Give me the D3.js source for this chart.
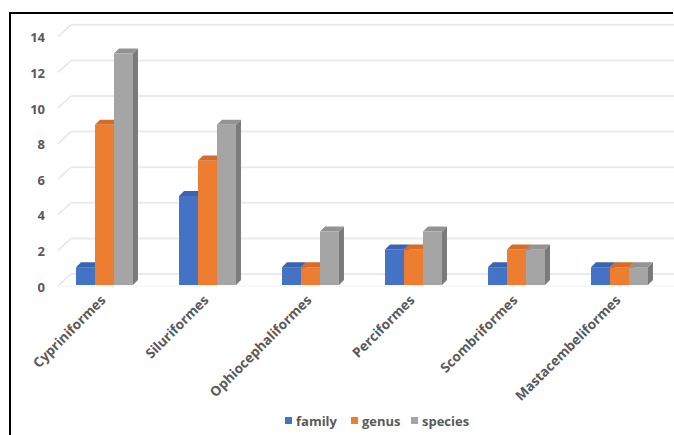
<!DOCTYPE html>
<html>
<head>
<meta charset="utf-8">
<script src="https://cdn.jsdelivr.net/npm/d3@7"></script>
<style>
  html, body { margin: 0; padding: 0; background: #fff; }
  svg { display: block; font-family: "Open Sans", "Liberation Sans", sans-serif; }
</style>
</head>
<body>
<svg id="chart" width="674" height="435"></svg>
<script>
// Fish orders and the number of families, genera and species in each
const categories = ["Cypriniformes", "Siluriformes", "Ophiocephaliformes", "Perciformes", "Scombriformes", "Mastacembeliformes"];
const seriesNames = ["family", "genus", "species"];
const familyValues  = [1, 5, 1, 2, 1, 1];
const genusValues   = [9, 7, 1, 2, 2, 1];
const speciesValues = [13, 9, 3, 3, 2, 1];
const yTicks = [0, 2, 4, 6, 8, 10, 12, 14];

const seriesValues = [familyValues, genusValues, speciesValues];
const frontColors = ["#4472c4", "#ed7d31", "#a5a5a5"];
const topColors   = ["#3a64b0", "#d46d28", "#939393"];
const sideColors  = ["#2f5597", "#b45b1c", "#7a7a7a"];

const svg = d3.select("#chart");
const W = 674, H = 435;

// frame: top and left rules
svg.append("line").attr("x1", 10).attr("y1", 13).attr("x2", 673).attr("y2", 13)
  .attr("stroke", "#000").attr("stroke-width", 2);
svg.append("line").attr("x1", 10).attr("y1", 12).attr("x2", 10).attr("y2", 435)
  .attr("stroke", "#000").attr("stroke-width", 2);

const y = d3.scaleLinear().domain([0, 14]).range([285, 285 - 14 * 17.8]);
const x0 = d3.scaleBand().domain(categories).range([53, 671]).paddingInner(0.447).paddingOuter(0.2235);
const x1 = d3.scaleBand().domain(seriesNames).range([0, x0.bandwidth()]).padding(0);

// 3D offsets
const wallDx = 13, wallDy = -12;   // back wall relative to the front plane
const d = 5;                        // bar depth

// gridlines: slanted on the side wall, horizontal on the back wall
const grid = svg.append("g");
yTicks.forEach(t => {
  const yy = y(t) + 1;
  grid.append("line").attr("x1", 58).attr("y1", yy).attr("x2", 58 + wallDx).attr("y2", yy + wallDy)
    .attr("stroke", "#e6e6e6").attr("stroke-width", 1.5);
  grid.append("line").attr("x1", 58 + wallDx).attr("y1", yy + wallDy).attr("x2", W).attr("y2", yy + wallDy)
    .attr("stroke", "#ebebeb").attr("stroke-width", 2);
});
// floor edge
grid.append("line").attr("x1", 58).attr("y1", y(0) + 1).attr("x2", W).attr("y2", y(0) + 1)
  .attr("stroke", "#f2f2f2").attr("stroke-width", 1);

// y-axis labels
const yAxis = d3.axisLeft(y).tickValues(yTicks).tickSize(0).tickPadding(0);
const ya = svg.append("g").attr("transform", "translate(45,2)").call(yAxis);
ya.select(".domain").remove();
ya.selectAll("text").attr("fill", "#595959").attr("font-size", 13).attr("font-weight", 700)
  .attr("font-family", "'Open Sans', sans-serif");

// bars
const bars = svg.append("g");
categories.forEach((cat, ci) => {
  seriesNames.forEach((s, si) => {
    const v = seriesValues[si][ci];
    const xl = x0(cat) + x1(s);
    const xr = xl + x1.bandwidth();
    const yt = y(v), yb = y(0);
    // side face
    bars.append("path")
      .attr("d", `M${xr},${yt}L${xr + d},${yt - d}L${xr + d},${yb - d}L${xr},${yb}Z`)
      .attr("fill", sideColors[si]);
    // front face
    bars.append("rect").attr("x", xl).attr("y", yt).attr("width", xr - xl).attr("height", yb - yt)
      .attr("fill", frontColors[si]);
    // top face
    bars.append("path")
      .attr("d", `M${xl},${yt}L${xl + d},${yt - d}L${xr + d},${yt - d}L${xr},${yt}Z`)
      .attr("fill", topColors[si]);
  });
});

// category labels, rotated
const xa = svg.append("g");
categories.forEach(cat => {
  const cx = x0(cat) + x0.bandwidth() / 2 + 2;
  xa.append("text")
    .attr("transform", `translate(${cx},301) rotate(-45)`)
    .attr("text-anchor", "end")
    .attr("fill", "#595959")
    .attr("font-size", 13.5)
    .attr("font-weight", 700)
    .text(cat);
});

// legend
const legend = svg.append("g").attr("transform", "translate(0,421)");
const legendX = [285, 351, 411];
seriesNames.forEach((s, i) => {
  legend.append("rect").attr("x", legendX[i]).attr("y", -4).attr("width", 7).attr("height", 7)
    .attr("fill", frontColors[i]);
  legend.append("text").attr("x", legendX[i] + 11).attr("y", 0).attr("dy", "0.35em")
    .attr("fill", "#595959").attr("font-size", 13).attr("font-weight", 700)
    .text(s);
});
</script>
</body>
</html>
